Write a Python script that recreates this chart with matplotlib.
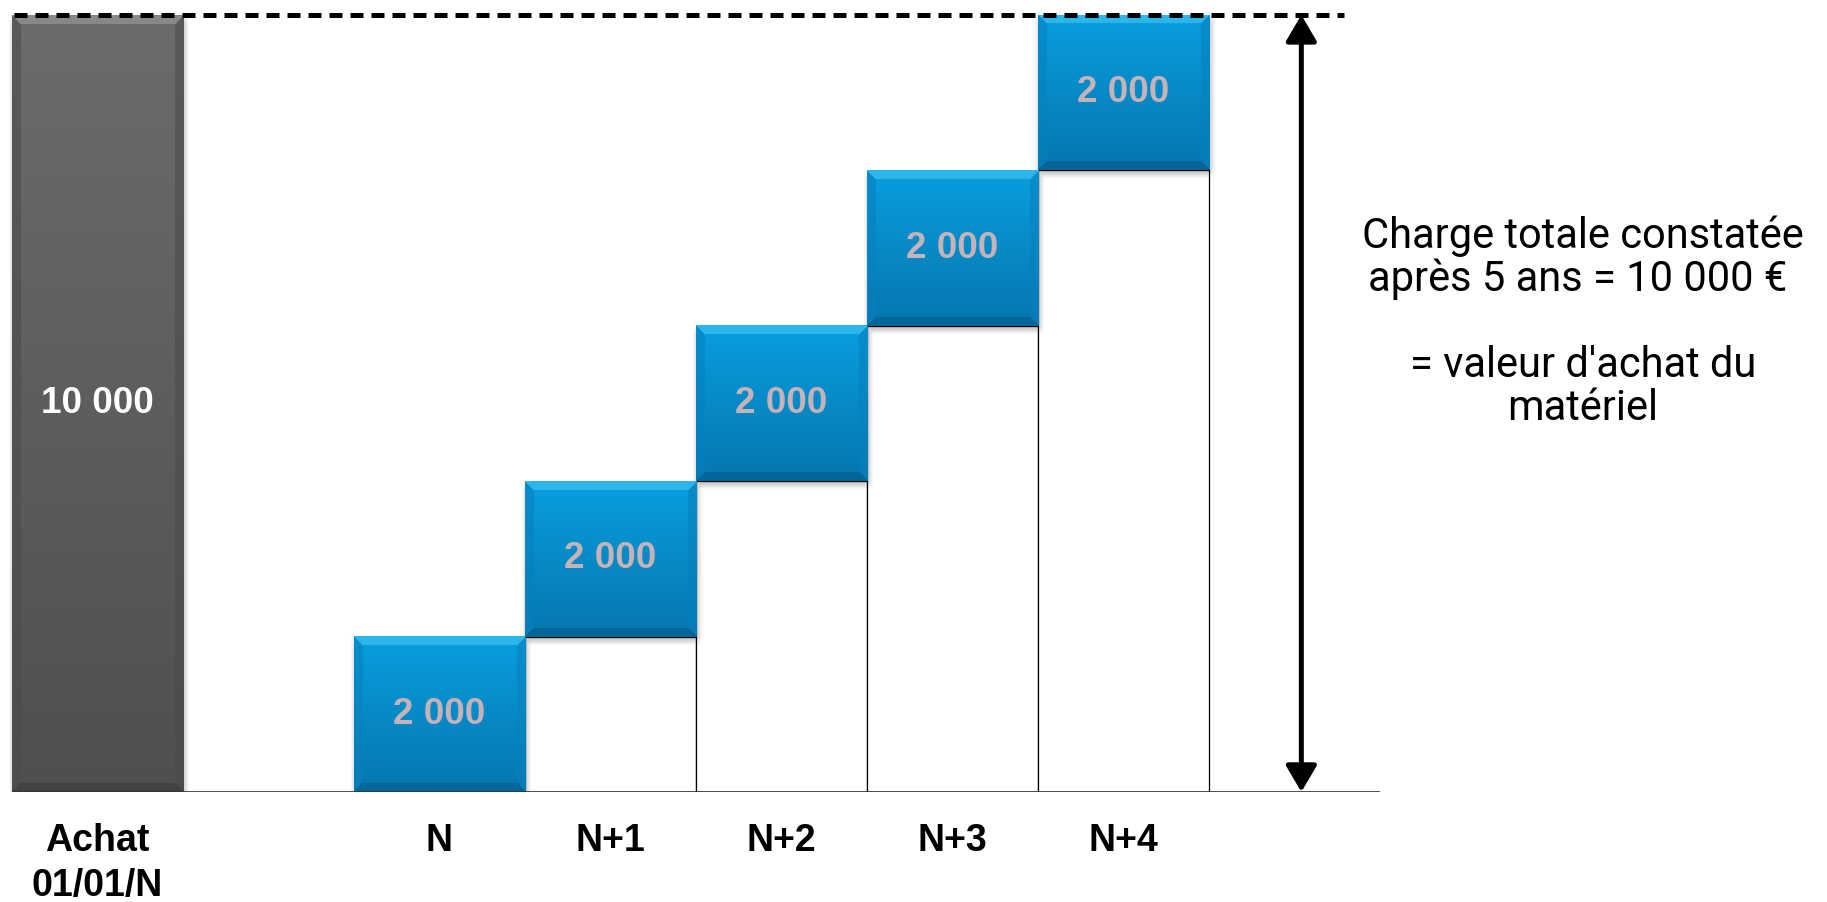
import numpy as np
import matplotlib.pyplot as plt

# Amortissement linéaire d'un matériel : achat puis dotations annuelles
categories = ["Achat\n01/01/N", "", "N", "N+1", "N+2", "N+3", "N+4"]
purchase_value = 10000
annual_charges = [2000, 2000, 2000, 2000, 2000]
note_text = "Charge totale constatée\naprès 5 ans = 10 000 € \n\n= valeur d'achat du\nmatériel"


def fmt(v):
    return f"{v:,.0f}".replace(",", " ")


def hex_rgb(h):
    h = h.lstrip("#")
    return np.array([int(h[i:i + 2], 16) / 255 for i in (0, 2, 4)])


def bevel_image(w, h, top, bottom, light, dark, side, bevel=9):
    """Gradient face with a light top bevel, darker bottom and sides."""
    w, h = max(int(round(w)), 2), max(int(round(h)), 2)
    t = np.linspace(0, 1, h)[:, None, None]
    img = (1 - t) * hex_rgb(top) + t * hex_rgb(bottom)
    img = np.repeat(img, w, axis=1)
    yy, xx = np.mgrid[0:h, 0:w]
    d = np.stack([yy, h - 1 - yy, xx, w - 1 - xx])
    nearest = d.argmin(axis=0)
    inside = d.min(axis=0) < bevel
    for k, col in enumerate([light, dark, side, side]):
        m = inside & (nearest == k)
        img[m] = 0.45 * img[m] + 0.55 * hex_rgb(col)
    return img


def shadow_image(w, h, pad=8, blur=4):
    w, h = int(round(w)), int(round(h))
    a = np.zeros((h + 2 * pad, w + 2 * pad))
    a[pad:pad + h, pad:pad + w] = 1.0
    k = np.ones(2 * blur + 1) / (2 * blur + 1)
    for axis in (0, 1):
        a = np.apply_along_axis(lambda r: np.convolve(r, k, mode="same"), axis, a)
    rgba = np.zeros(a.shape + (4,))
    rgba[..., 3] = a * 0.3
    return rgba


fig = plt.figure(figsize=(18.27, 9.02), dpi=100)
ax = fig.add_axes([0, 0.122, 1, 0.8614])
ax.set_xlim(-0.570, 10.114)
ax.set_ylim(0, 10000)
for s in ax.spines.values():
    s.set_visible(False)
ax.set_yticks([])

px_x = fig.get_figwidth() * fig.dpi / (10.114 + 0.570)
px_y = fig.get_figheight() * fig.dpi * 0.8614 / 10000


def draw_block(x, bottom, height, colors, label, label_color):
    x0, x1 = x - 0.5, x + 0.5
    y0, y1 = bottom, bottom + height
    w, h = px_x, height * px_y
    # soft drop shadow, shifted down a few pixels
    pad = 8
    sh = shadow_image(w, h, pad=pad)
    dx, dy = pad / px_x, pad / px_y
    off = 4 / px_y
    ax.imshow(sh, extent=(x0 - dx + 1 / px_x, x1 + dx + 1 / px_x, y0 - dy - off, y1 + dy - off),
              aspect="auto", interpolation="bilinear", zorder=2)
    img = bevel_image(w, h, *colors)
    ax.imshow(img, extent=(x0, x1, y0, y1), aspect="auto",
              interpolation="bilinear", zorder=3)
    ax.text(x, bottom + height / 2, label, ha="center", va="center",
            fontsize=26.5, fontweight="bold", color=label_color,
            family="Liberation Sans", zorder=5)


grey = ("#6C6C6C", "#4F4F4F", "#A0A0A0", "#383838", "#4A4A4A")
blue = ("#099EE0", "#0676AE", "#4CCBF5", "#045985", "#0580BD")

# barre d'achat
draw_block(0, 0, purchase_value, grey, fmt(purchase_value), "white")

# dotations annuelles en escalier, avec leur base blanche encadrée
bottoms = np.concatenate([[0], np.cumsum(annual_charges)[:-1]])
xs = np.arange(2, 2 + len(annual_charges))
ax.bar(xs[1:], bottoms[1:], width=1.0, color="white", edgecolor="black",
       linewidth=0.9, zorder=1)
for x, b, v in zip(xs, bottoms, annual_charges):
    draw_block(x, b, v, blue, fmt(v), "#C6B3B8")

# ligne de base et ligne de référence en pointillés
ax.hlines(0, -0.5, 7.5, color="#333333", linewidth=1.2, zorder=4)
total = bottoms[-1] + annual_charges[-1]
arrow_x = 7.04
ax.plot([-0.49, arrow_x + 0.25], [total, total], color="black", linewidth=3.6,
        dashes=(2.6, 1.6), zorder=6, clip_on=False)

ax.annotate("", xy=(arrow_x, total), xytext=(arrow_x, 0),
            arrowprops=dict(arrowstyle="<|-|>,head_length=0.8,head_width=0.47",
                            mutation_scale=20, lw=3.6, color="black",
                            shrinkA=0, shrinkB=0), zorder=6)

ax.text(8.687, 6049, note_text, ha="center", va="center", multialignment="center",
        fontsize=30, family="Roboto", linespacing=1.06, color="black")

ax.set_xticks(range(len(categories)))
ax.set_xticklabels(categories, fontsize=27, fontweight="bold", family="Liberation Sans",
                   linespacing=1.35)
ax.tick_params(axis="x", length=0, pad=22)

fig.savefig("out.png", dpi=100, facecolor="white")
